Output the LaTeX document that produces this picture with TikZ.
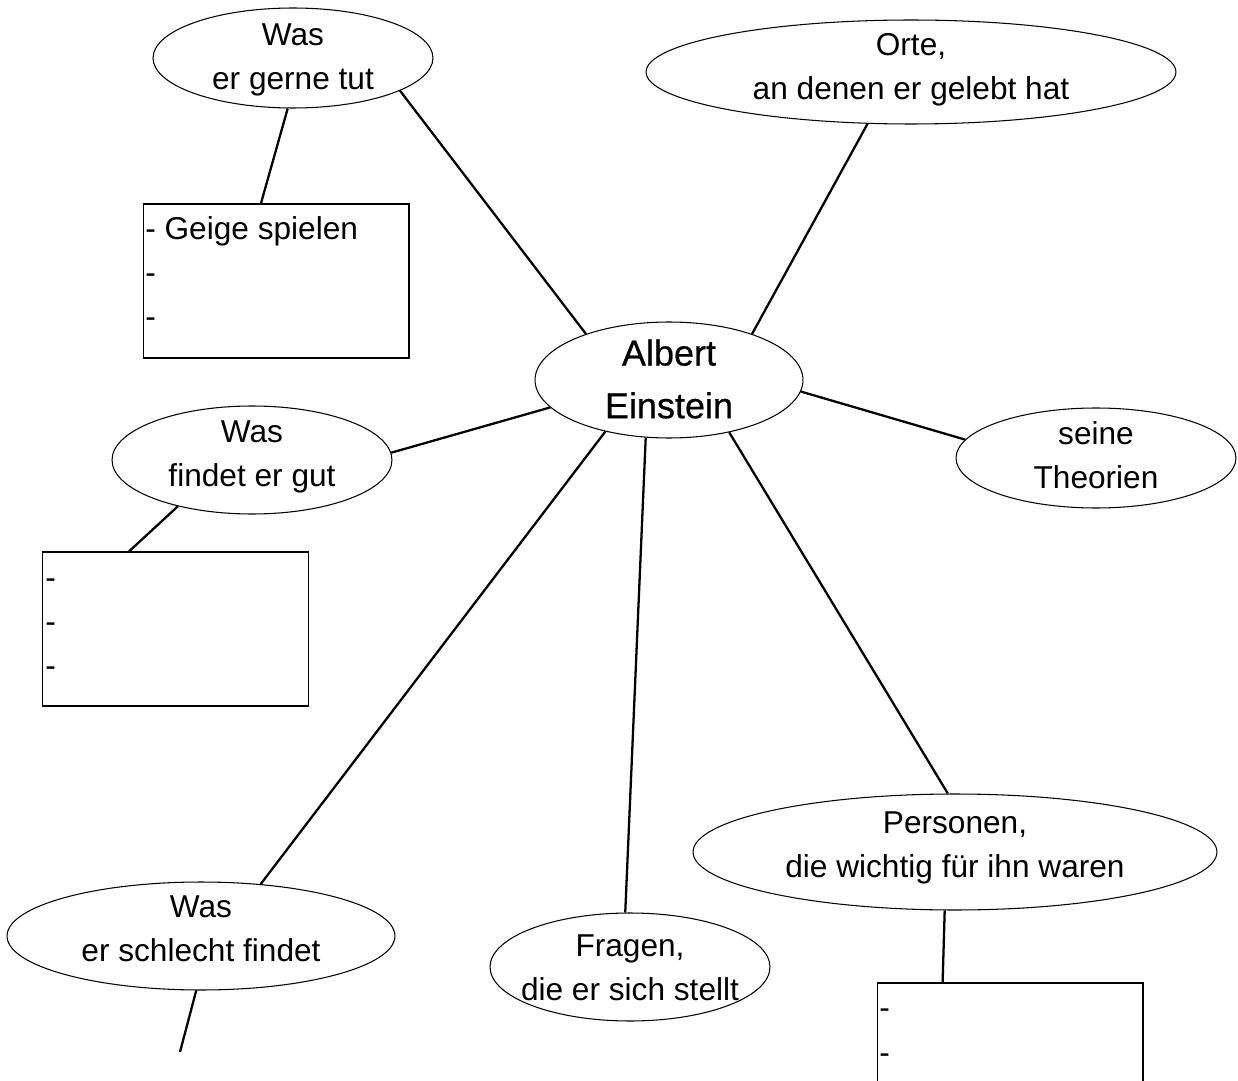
\documentclass[tikz,border=0pt]{standalone}
\usepackage{fontspec}
\setmainfont{Liberation Sans}
\newfontfamily\heavyfont[FakeBold=0.6]{Liberation Sans}
\usetikzlibrary{shapes.geometric}
\tikzset{
  bubble/.style={draw, ellipse, line width=0.6pt, inner sep=0pt},
  notebox/.style={draw, rectangle, line width=0.6pt, minimum width=5.32cm, minimum height=3.08cm, inner sep=0pt},
  txt/.style={align=center, inner sep=0pt, font=\fontsize{18}{25}\selectfont},
  item/.style={anchor=base west, inner sep=0pt, font=\fontsize{18}{25}\selectfont},
  link/.style={line width=1.3pt}
}
\begin{document}
\begin{tikzpicture}[x=0.02cm, y=-0.02cm]
  \useasboundingbox (0,0) rectangle (1238,1081);
  \clip (0,0) rectangle (1238,1081);
  % bubbles
  \node[bubble, minimum width=5.36cm, minimum height=2.32cm] (einstein) at (669,380) {};
  \node[bubble, minimum width=5.6cm, minimum height=2cm] (tut) at (293,58) {};
  \node[bubble, minimum width=10.6cm, minimum height=2.08cm] (orte) at (911,72) {};
  \node[bubble, minimum width=5.6cm, minimum height=2.16cm] (gut) at (252,460) {};
  \node[bubble, minimum width=5.6cm, minimum height=2cm] (theorien) at (1096,458) {};
  \node[bubble, minimum width=10.48cm, minimum height=2.32cm] (personen) at (955,852) {};
  \node[bubble, minimum width=5.6cm, minimum height=2.16cm] (fragen) at (630,967) {};
  \node[bubble, minimum width=7.76cm, minimum height=2.16cm] (schlecht) at (201,936) {};
  % texts
  \node[txt, font=\heavyfont\fontsize{20.5}{30}\selectfont] (einstein-t) at (669,379) {Albert\\Einstein};
  \node[txt] (tut-t) at (293,59.5) {Was\\er gerne tut};
  \node[txt] (orte-t) at (911,69.5) {Orte,\\an denen er gelebt hat};
  \node[txt] (gut-t) at (252,456.5) {Was\\findet er gut};
  \node[txt] (theorien-t) at (1096,455) {seine\\Theorien};
  \node[txt] (personen-t) at (955,847.5) {Personen,\\die wichtig für ihn waren};
  \node[txt] (fragen-t) at (630,968) {Fragen,\\die er sich stellt};
  \node[txt] (schlecht-t) at (201,929) {Was\\er schlecht findet};
  % boxes
  \node[notebox] (geige) at (276,281) {};
  \node[notebox] (gutbox) at (175.5,629) {};
  \node[notebox] (persbox) at (1010,1060) {};
  \node[item] (geige-1) at (145,240) {- Geige spielen};
  \node[item] (geige-2) at (145,284) {-};
  \node[item] (geige-3) at (145,328) {-};
  \node[item] (gutbox-1) at (45,588) {-};
  \node[item] (gutbox-2) at (45,632) {-};
  \node[item] (gutbox-3) at (45,676) {-};
  \node[item] (persbox-1) at (879,1018) {-};
  \node[item] (persbox-2) at (879,1063) {-};
  \coordinate (loose) at (180,1052);
  % links
  \draw[link] (einstein.151.6) -- (tut.343.8);
  \draw[link] (einstein.29.1) -- (orte.230);
  \draw[link] (einstein.193) -- (gut.3.4);
  \draw[link] (einstein.355) -- (theorien.172.5);
  \draw[link] (einstein.219.1) -- (schlecht.41.5);
  \draw[link] (einstein.248.2) -- (fragen.95.5);
  \draw[link] (einstein.319.7) -- (personen.97.9);
  \draw[link] (tut.264.3) -- (geige.101.7);
  \draw[link] (gut.212.6) -- (gutbox.121.7);
  \draw[link] (personen.260.2) -- (persbox.131);
  \draw[link] (schlecht.265) -- (loose);
\end{tikzpicture}
\end{document}
